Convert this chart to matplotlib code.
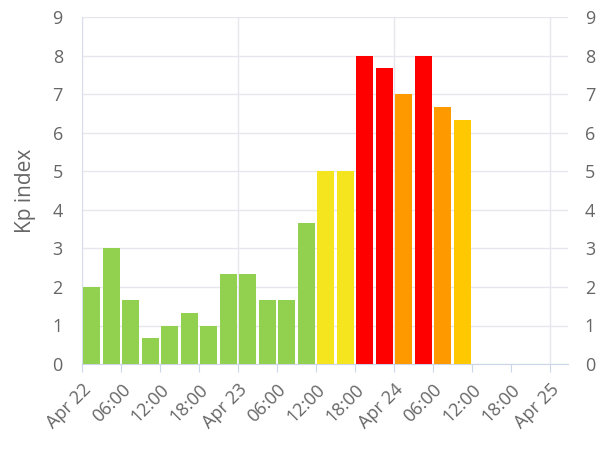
import matplotlib
matplotlib.use("Agg")
import matplotlib.pyplot as plt

plt.rcParams["font.family"] = ["Open Sans", "DejaVu Sans"]

hours = list(range(0, 60, 3))
kp = [2, 3, 1.67, 0.67, 1, 1.33, 1, 2.33, 2.33, 1.67, 1.67, 3.67, 5, 5, 8, 7.67, 7, 8, 6.67, 6.33]
colors = ["#92D050"] * 12 + ["#F5E51E", "#F5E51E", "#FF0000", "#FF0000", "#FF9900", "#FF0000", "#FF9900", "#FFC800"]
tick_hours = list(range(0, 73, 6))
tick_labels = ["Apr 22", "06:00", "12:00", "18:00", "Apr 23", "06:00", "12:00", "18:00",
               "Apr 24", "06:00", "12:00", "18:00", "Apr 25"]

fig = plt.figure(figsize=(6, 4.5), dpi=100)
ax = fig.add_axes([0.137, 0.191, 0.81, 0.771])
ax.bar([h + 0.2 for h in hours], kp, width=2.6, align="edge", color=colors, zorder=3)
ax.set_xlim(0, 74.8)
ax.set_ylim(0, 9)
ax.set_yticks(range(10))
ax.set_xticks(tick_hours)
ax.set_xticklabels(tick_labels, rotation=45, ha="right", rotation_mode="anchor")
for x in range(0, 73, 24):
    ax.axvline(x, color="#E6E6EE", lw=1, zorder=1)
ax.grid(axis="y", color="#E6E6EE", lw=1, zorder=1)
for s in ["top", "right"]:
    ax.spines[s].set_visible(False)
ax.spines["left"].set_color("#D8DCEB")
ax.spines["bottom"].set_color("#CCD6EB")
ax.tick_params(axis="y", length=0, labelsize=13, colors="#666666", pad=14)
ax.tick_params(axis="x", length=6, color="#CCD6EB", labelsize=13, labelcolor="#666666", pad=6)
ax.set_ylabel("Kp index", fontsize=15, color="#666666", labelpad=12)

ax2 = ax.twinx()
ax2.set_ylim(0, 9)
ax2.set_yticks(range(10))
for s in ax2.spines.values():
    s.set_visible(False)
ax2.tick_params(axis="y", length=0, labelsize=13, colors="#666666", pad=12)

fig.savefig("out.png")
